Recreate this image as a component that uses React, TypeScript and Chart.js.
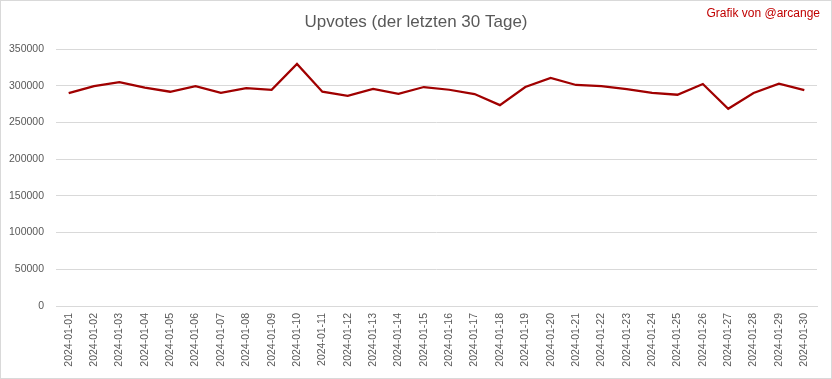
import React, { useEffect, useRef } from "react";
import { Chart, registerables } from "chart.js";

Chart.register(...registerables);

const categories = [
  "2024-01-01", "2024-01-02", "2024-01-03", "2024-01-04", "2024-01-05",
  "2024-01-06", "2024-01-07", "2024-01-08", "2024-01-09", "2024-01-10",
  "2024-01-11", "2024-01-12", "2024-01-13", "2024-01-14", "2024-01-15",
  "2024-01-16", "2024-01-17", "2024-01-18", "2024-01-19", "2024-01-20",
  "2024-01-21", "2024-01-22", "2024-01-23", "2024-01-24", "2024-01-25",
  "2024-01-26", "2024-01-27", "2024-01-28", "2024-01-29", "2024-01-30",
];

const upvotes = [
  290000, 299500, 305000, 297300, 291800, 299500, 290400, 296800, 294500, 329600,
  291800, 286300, 295500, 289000, 298200, 294500, 288600, 273600, 298200, 310500,
  301000, 299500, 295500, 290400, 287700, 302300, 268600, 290000, 302700, 294100,
];

const titleText = "Upvotes (der letzten 30 Tage)";
const creditText = "Grafik von @arcange";
const yMax = 350000;
const yStep = 50000;

const decorPlugin = {
  id: "decor",
  afterDraw(chart: any) {
    const ctx = chart.ctx;
    ctx.save();
    ctx.strokeStyle = "#d9d9d9";
    ctx.lineWidth = 1;
    ctx.strokeRect(0.5, 0.5, chart.width - 1, chart.height - 1);
    ctx.fillStyle = "#595959";
    ctx.font = "17px 'Liberation Sans', Arial, sans-serif";
    ctx.textAlign = "center";
    ctx.textBaseline = "middle";
    ctx.fillText(titleText, 416, 22);
    ctx.fillStyle = "#c00000";
    ctx.font = "12px 'Liberation Sans', Arial, sans-serif";
    ctx.textAlign = "right";
    ctx.fillText(creditText, 820, 14);
    ctx.restore();
  },
};

export default function App() {
  const ref = useRef<HTMLCanvasElement>(null);
  useEffect(() => {
    document.body.style.margin = "0";
    const chart = new Chart(ref.current!, {
      type: "line",
      data: {
        labels: categories,
        datasets: [
          {
            data: upvotes,
            borderColor: "#a00000",
            borderWidth: 2.25,
            pointRadius: 0,
            tension: 0,
            fill: false,
          },
        ],
      },
      options: {
        animation: false,
        responsive: false,
        layout: { padding: { left: 8, right: 15, top: 49, bottom: 0 } },
        plugins: {
          legend: { display: false },
          title: { display: false },
          tooltip: { enabled: false },
        },
        scales: {
          x: {
            offset: true,
            grid: { display: false, drawTicks: false },
            border: { display: true, color: "#d9d9d9", width: 1 },
            ticks: {
              maxRotation: 90,
              minRotation: 90,
              autoSkip: false,
              padding: 7,
              color: "#595959",
              font: { family: "'Liberation Sans', Arial, sans-serif", size: 10.5 },
            },
            afterFit: (scale: any) => {
              scale.height = 73;
            },
          },
          y: {
            min: 0,
            max: yMax,
            grid: { color: "#d9d9d9", drawTicks: false, tickLength: 0 },
            border: { display: false },
            ticks: {
              stepSize: yStep,
              padding: 12,
              color: "#595959",
              font: { family: "'Liberation Sans', Arial, sans-serif", size: 10.5 },
              callback: (v: any) => String(v),
            },
            afterFit: (scale: any) => {
              scale.width = 48;
            },
          },
        },
      },
      plugins: [decorPlugin],
    });
    return () => chart.destroy();
  }, []);
  return (
    <div style={{ width: 832, height: 379 }}>
      <canvas ref={ref} width={832} height={379} style={{ display: "block" }} />
    </div>
  );
}
